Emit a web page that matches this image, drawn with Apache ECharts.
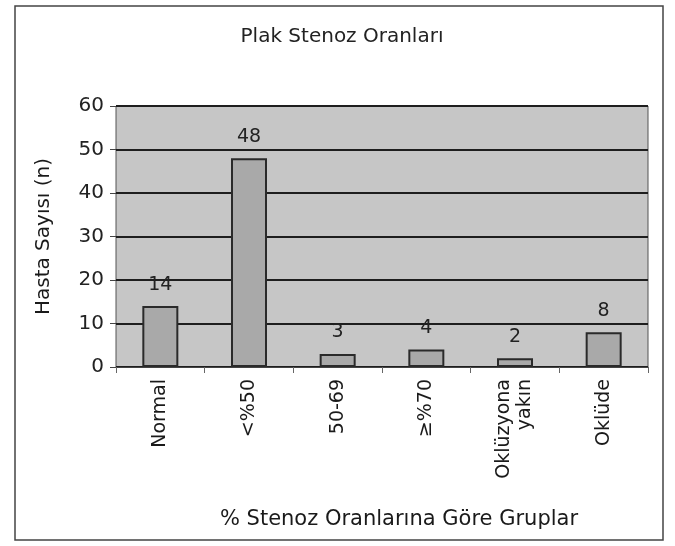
<!DOCTYPE html>
<html>
<head>
<meta charset="utf-8">
<script src="https://cdn.jsdelivr.net/npm/echarts@6/dist/echarts.min.js"></script>
<style>
  html, body { margin: 0; padding: 0; background: #fff; }
  #chart { width: 675px; height: 546px; }
</style>
</head>
<body>
<div id="chart"></div>
<script>
// categories and counts
const groups = ["Normal", "<%50", "50-69", "≥%70", "Oklüzyona\nyakın", "Oklüde"];
const patients = [14, 48, 3, 4, 2, 8];
const yTicks = [0, 10, 20, 30, 40, 50, 60];

const chart = echarts.init(document.getElementById("chart"));

const options = {
  animation: false,
  backgroundColor: "#fff",
  title: {
    text: "Plak Stenoz Oranları",
    left: 337,
    top: 22,
    textAlign: "center",
    textStyle: { fontFamily: "DejaVu Sans", fontSize: 20, fontWeight: "normal", color: "#222" }
  },
  graphic: [
    {
      type: "rect",
      shape: { x: 15, y: 6, width: 648, height: 534 },
      style: { fill: "none", stroke: "#444", lineWidth: 1.5 },
      silent: true
    }
  ],
  grid: {
    left: 116,
    right: 27,
    top: 106,
    bottom: 179,
    show: true,
    backgroundColor: "#c6c6c6",
    borderColor: "#555",
    borderWidth: 1
  },
  xAxis: {
    type: "category",
    data: groups,
    name: "% Stenoz Oranlarına Göre Gruplar",
    nameLocation: "middle",
    nameGap: 142,
    nameTextStyle: { fontFamily: "DejaVu Sans", fontSize: 21, color: "#1a1a1a", padding: [0, 0, 0, 34] },
    axisLine: { show: true, lineStyle: { color: "#444", width: 1 } },
    axisTick: { show: true, alignWithLabel: false, length: 6, lineStyle: { color: "#666" } },
    axisLabel: {
      rotate: 90,
      margin: 12,
      fontFamily: "DejaVu Sans",
      fontSize: 19,
      color: "#1a1a1a",
      lineHeight: 21
    }
  },
  yAxis: {
    type: "value",
    min: 0,
    max: 60,
    interval: 10,
    name: "Hasta Sayısı (n)",
    nameLocation: "middle",
    nameRotate: 90,
    nameGap: 62,
    nameTextStyle: { fontFamily: "DejaVu Sans", fontSize: 20, color: "#1a1a1a" },
    axisLine: { show: false },
    axisTick: { show: true, length: 6, lineStyle: { color: "#444" } },
    axisLabel: {
      margin: 12,
      fontFamily: "DejaVu Sans",
      fontSize: 20,
      color: "#222",
      formatter: function(v) {
        return yTicks.indexOf(v) >= 0 ? String(v) : "";
      }
    },
    splitLine: { show: true, lineStyle: { color: "#1e1e1e", width: 2 } }
  },
  series: [
    {
      type: "bar",
      data: patients,
      barWidth: 36,
      itemStyle: { color: "#a9a9a9", borderColor: "#2a2a2a", borderWidth: 2 },
      label: {
        show: true,
        position: "top",
        distance: 12,
        fontFamily: "DejaVu Sans",
        fontSize: 19,
        color: "#222"
      }
    }
  ]
};

chart.setOption(options);
</script>
</body>
</html>
